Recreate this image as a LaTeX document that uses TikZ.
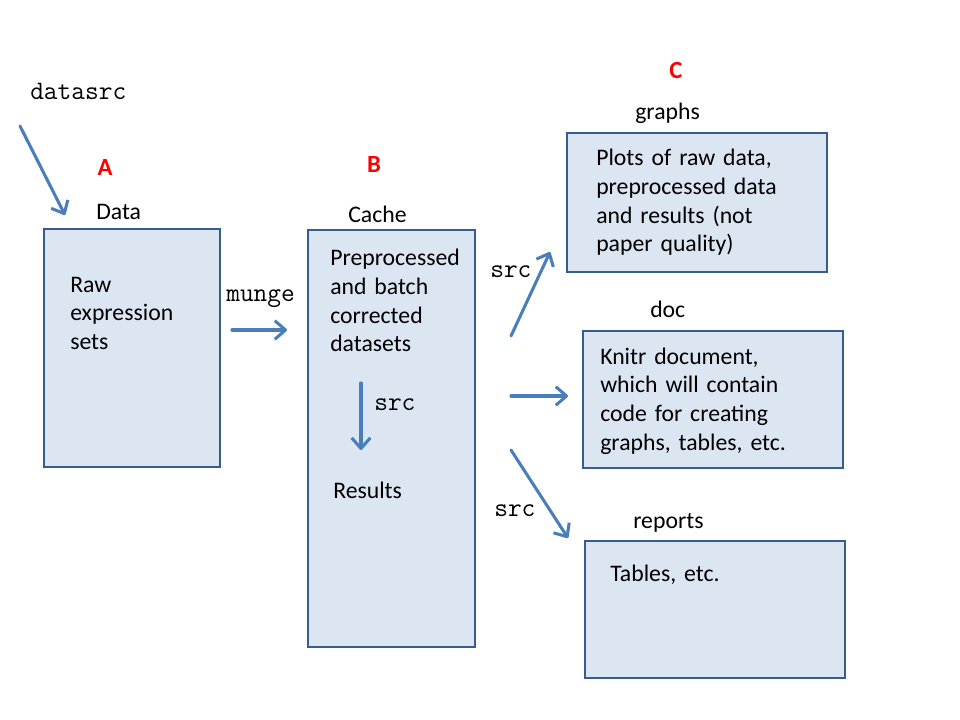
\documentclass[tikz,border=0pt]{standalone}
\usepackage{fontspec}
\setmainfont{Carlito}
\usetikzlibrary{arrows.meta}

\definecolor{boxfill}{HTML}{DCE6F2}
\definecolor{boxline}{HTML}{385D8A}
\definecolor{arrowblue}{HTML}{4A7EBB}

\tikzset{
    box/.style={rectangle,draw=boxline,fill=boxfill,line width=2pt,inner sep=0pt},
    txt/.style={anchor=base west,inner sep=0pt,align=left,text width=200pt,
                font=\fontsize{17.8}{21.5}\selectfont},
    lbl/.style={anchor=base west,inner sep=0pt,font=\fontsize{17.8}{21.5}\selectfont},
    code/.style={anchor=base west,inner sep=0pt,font=\ttfamily\fontsize{20}{24}\selectfont},
    letter/.style={anchor=base,inner sep=0pt,text=red,font=\bfseries\fontsize{18.5}{22}\selectfont},
    flow/.style={draw=arrowblue,line width=2.3pt,line cap=round,
                 -{Straight Barb[length=8pt,width=14pt,line join=round]}}
}

\begin{document}
\begin{tikzpicture}[x=0.75pt,y=-0.75pt]
        \useasboundingbox (0,0) rectangle (960,720);

        % boxes
        \node[box,minimum width=132pt,minimum height=178.5pt] (data) at (132,348) {};
        \node[box,minimum width=125.25pt,minimum height=312.75pt] (cache) at (391.5,438.5) {};
        \node[box,minimum width=195pt,minimum height=104.25pt] (graphs) at (697,202.5) {};
        \node[box,minimum width=195pt,minimum height=102.75pt] (doc) at (713,399.5) {};
        \node[box,minimum width=195pt,minimum height=102.75pt] (reports) at (715,609.5) {};

        % box contents
        \node[txt] (rawtxt) at (70,292) {Raw\\expression\\sets};
        \node[txt] (cachetxt) at (330,266) {Preprocessed\\and batch\\corrected\\datasets};
        \node[lbl] (results) at (333,498) {Results};
        \node[txt] (graphstxt) at (596,166) {Plots of raw data,\\preprocessed data\\and results (not\\paper quality)};
        \node[txt] (doctxt) at (600,364) {Knitr document,\\which will contain\\code for creating\\graphs, tables, etc.};
        \node[txt] (reportstxt) at (610,581) {Tables, etc.};

        % folder names
        \node[lbl] (datalbl) at (96,220) {Data};
        \node[lbl] (cachelbl) at (348,223) {Cache};
        \node[lbl] (graphslbl) at (635,120) {graphs};
        \node[lbl] (doclbl) at (650,317) {doc};
        \node[lbl] (reportslbl) at (633,528) {reports};

        % letters
        \node[letter] (A) at (105,176) {A};
        \node[letter] (B) at (374,173) {B};
        \node[letter] (C) at (676,79) {C};

        % code labels
        \node[code] (datasrc) at (30,100) {datasrc};
        \node[code] (munge) at (226,301) {munge};
        \node[code] (srcdown) at (374,410) {src};
        \node[code] (srcup) at (490,277) {src};
        \node[code] (srcrep) at (494,516) {src};

        % arrow ends
        \coordinate (in-s) at (20,126);
        \coordinate (in-e) at (65,215);
        \coordinate (munge-s) at (232,330);
        \coordinate (munge-e) at (287,330);
        \coordinate (res-s) at (361,383);
        \coordinate (res-e) at (361,450);
        \coordinate (fork) at (511,336);
        \coordinate (graphs-e) at (550,252);
        \coordinate (doc-s) at (511,396);
        \coordinate (doc-e) at (568,396);
        \coordinate (rep-s) at (511,450);
        \coordinate (rep-e) at (568,538);

        \draw[flow] (in-s) -- (in-e);
        \draw[flow] (munge-s) -- (munge-e);
        \draw[flow] (res-s) -- (res-e);
        \draw[flow] (fork) -- (graphs-e);
        \draw[flow] (doc-s) -- (doc-e);
        \draw[flow] (rep-s) -- (rep-e);
    \end{tikzpicture}
\end{document}
